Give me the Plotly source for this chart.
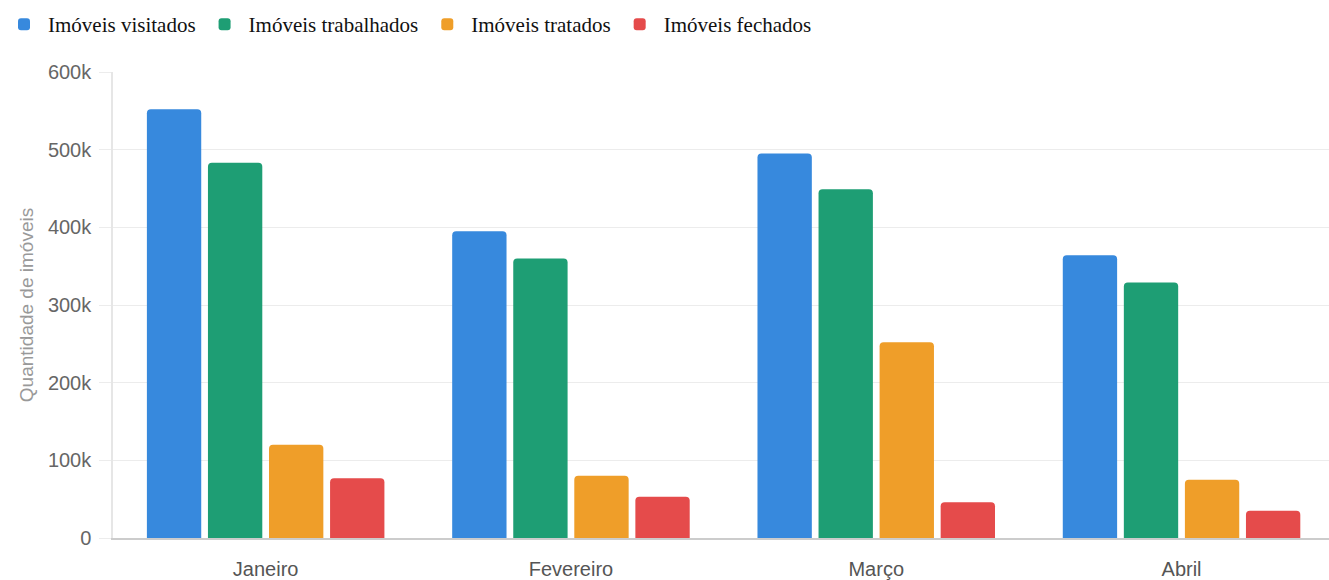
import plotly.graph_objects as go

months = ["Janeiro", "Fevereiro", "Março", "Abril"]
series_names = ["Imóveis visitados", "Imóveis trabalhados", "Imóveis tratados", "Imóveis fechados"]
visitados = [552000, 395000, 495000, 364000]
trabalhados = [483000, 360000, 449000, 329000]
tratados = [120000, 80000, 252000, 75000]
fechados = [77000, 53000, 46000, 35000]
colors = ["#3789dd", "#1e9e74", "#ef9e29", "#e54b4b"]
tick_vals = [0, 100000, 200000, 300000, 400000, 500000, 600000]
tick_text = ["0", "100k", "200k", "300k", "400k", "500k", "600k"]

fig = go.Figure()
for name, vals, col in zip(series_names, [visitados, trabalhados, tratados, fechados], colors):
    fig.add_trace(go.Bar(x=months, y=vals, name=name, marker=dict(color=col, cornerradius=4, line=dict(width=0))))

fig.update_layout(
    width=1329, height=580,
    margin=dict(l=113, r=0, t=72, b=42),
    plot_bgcolor="white", paper_bgcolor="white",
    barmode="group", bargap=0.2, bargroupgap=0.11,
    legend=dict(orientation="h", x=0, xref="container", xanchor="left", y=0.993, yref="container", yanchor="top",
                font=dict(family="Liberation Serif", size=21, color="#111"),
                itemsizing="constant", traceorder="normal", itemwidth=38),
    showlegend=True,
    font=dict(family="Liberation Sans"),
)
fig.update_xaxes(range=[-0.5, 3.483], showline=True, linecolor="#cccccc", linewidth=1.5,
                 tickfont=dict(size=20, color="#555"), ticks="", ticklabelstandoff=12, showgrid=False,
                 automargin=False)
fig.update_yaxes(range=[0, 600000], tickvals=tick_vals, ticktext=tick_text,
                 showgrid=True, gridcolor="#ececec", gridwidth=1,
                 ticks="outside", ticklen=12, tickcolor="#ececec",
                 showline=True, linecolor="#e6e6e6", linewidth=1.5,
                 tickfont=dict(size=20, color="#666"), ticklabelstandoff=4, zeroline=False,
                 automargin=False,
                 title=dict(text="Quantidade de imóveis", font=dict(size=19, color="#999"), standoff=9))

fig.write_html("out.html")
